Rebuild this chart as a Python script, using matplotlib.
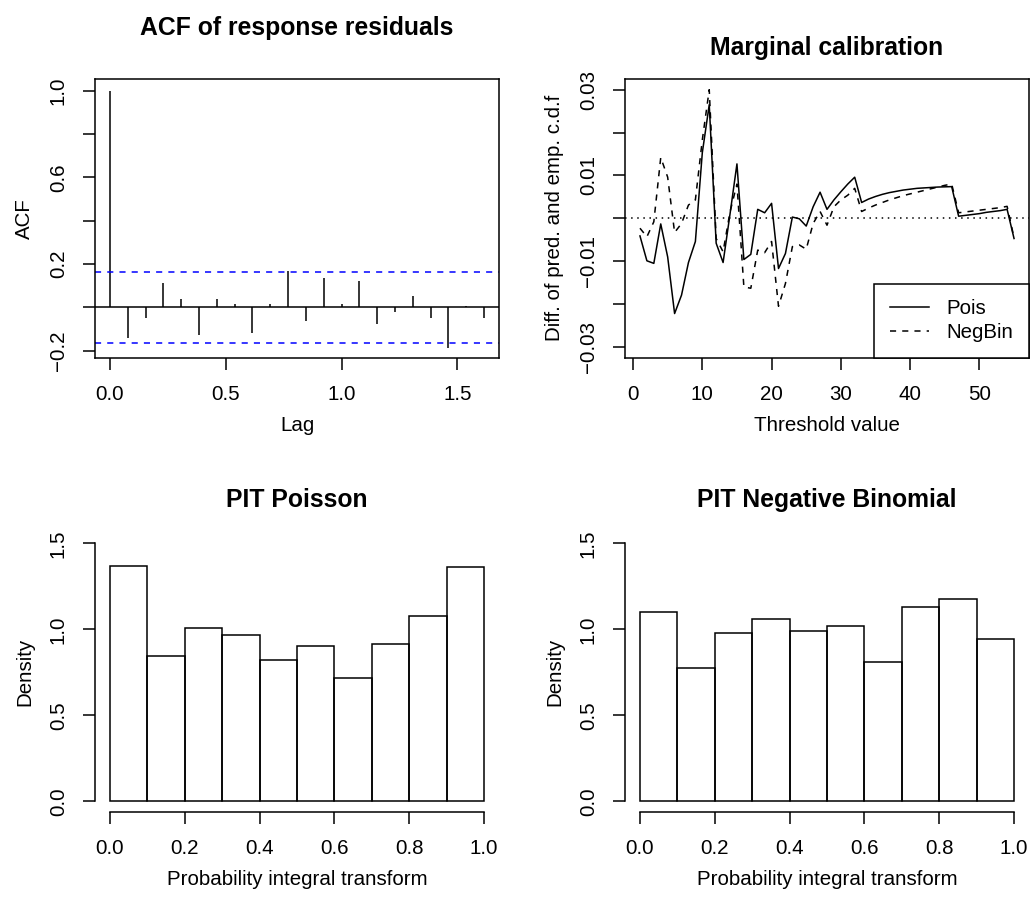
import numpy as np
import matplotlib
matplotlib.use("Agg")
import matplotlib.pyplot as plt

plt.rcParams['font.family'] = ['Liberation Sans', 'DejaVu Sans']
plt.rcParams['font.size'] = 14.8

# ACF of response residuals (lags in years, 13 obs per year)
acf_lags = [k / 13 for k in range(22)]
acf_vals = [1.0, -0.14, -0.051, 0.114, 0.037, -0.125, 0.04, 0.018, -0.12, 0.017, 0.168,
            -0.062, 0.138, 0.017, 0.122, -0.077, -0.022, 0.052, -0.051, -0.185, 0.006, -0.051]
acf_ci = 0.165

# marginal calibration: difference of predicted and empirical cdf (in %)
thresholds = list(range(1, 56))
diff_pois = [-0.41, -0.99, -1.05, -0.13, -0.90, -2.22, -1.79, -1.03, -0.54, 1.53,
             2.65, -0.58, -1.03, 0.10, 1.27, -0.96, -0.84, 0.21, 0.13, 0.35,
             -1.17, -0.82, 0.03, -0.01, -0.18, 0.27, 0.61, 0.21, 0.43, 0.62,
             0.80, 0.96, 0.37, 0.45, 0.51, 0.56, 0.60, 0.63, 0.66, 0.68,
             0.70, 0.71, 0.72, 0.73, 0.735, 0.74, 0.05, 0.07, 0.09, 0.11,
             0.14, 0.16, 0.18, 0.21, -0.47]
diff_negbin = [-0.23, -0.43, -0.08, 1.42, 0.96, -0.33, -0.12, 0.31, 0.43, 1.83,
               3.00, -0.47, -0.78, 0.15, 0.80, -1.60, -1.63, -0.74, -0.80, -0.54,
               -2.05, -1.52, -0.66, -0.62, -0.72, -0.12, 0.16, -0.16, 0.27, 0.43,
               0.54, 0.70, 0.16, 0.24, 0.31, 0.37, 0.43, 0.48, 0.53, 0.57,
               0.61, 0.65, 0.69, 0.73, 0.77, 0.80, 0.13, 0.15, 0.17, 0.19,
               0.21, 0.23, 0.25, 0.28, -0.45]
diff_pois = [v / 100 for v in diff_pois]
diff_negbin = [v / 100 for v in diff_negbin]

# PIT histograms
pit_bins = [0.0, 0.1, 0.2, 0.3, 0.4, 0.5, 0.6, 0.7, 0.8, 0.9]
pit_pois = [1.369, 0.844, 1.005, 0.966, 0.820, 0.902, 0.719, 0.916, 1.079, 1.363]
pit_negbin = [1.099, 0.778, 0.978, 1.063, 0.991, 1.017, 0.811, 1.131, 1.178, 0.945]

W, H = 1032, 898
fig = plt.figure(figsize=(W / 100, H / 100), dpi=100)

def panel(x0, y0, x1, y1):
    return fig.add_axes([x0 / W, 1 - y1 / H, (x1 - x0) / W, (y1 - y0) / H])

lw = 1.1
title_size = 17.8
tick_kw = dict(direction='out', length=8.4, width=lw, labelsize=14.8)

def style_axes(ax):
    ax.tick_params(axis='x', pad=11.5, **tick_kw)
    ax.tick_params(axis='y', pad=11.2, labelrotation=90, **tick_kw)
    for lab in ax.get_yticklabels():
        lab.set_va('center')
    for s in ax.spines.values():
        s.set_linewidth(lw)

# ---- ACF panel
ax1 = panel(95, 79, 499, 357.7)
ax1.vlines(acf_lags, 0, acf_vals, color='black', lw=lw)
ax1.axhline(0, color='black', lw=lw)
ax1.axhline(acf_ci, color='blue', lw=lw, ls=(0, (4, 4)))
ax1.axhline(-acf_ci, color='blue', lw=lw, ls=(0, (4, 4)))
ax1.set_xlim(-0.0646, 1.68)
ax1.set_ylim(-0.232, 1.054)
ax1.set_xticks([0.0, 0.5, 1.0, 1.5])
ax1.set_xticklabels(['0.0', '0.5', '1.0', '1.5'])
ax1.set_yticks([-0.2, 0.0, 0.2, 0.4, 0.6, 0.8, 1.0])
ax1.set_yticklabels(['\u22120.2', '', '0.2', '', '0.6', '', '1.0'])
style_axes(ax1)
ax1.set_xlabel('Lag', labelpad=8.4)
ax1.set_ylabel('ACF', labelpad=10.5)
ax1.set_title('ACF of response residuals', fontsize=title_size, fontweight='bold', pad=31.9)

# ---- marginal calibration panel
ax2 = panel(625, 79, 1029, 357.7)
ax2.plot(thresholds, diff_pois, color='black', lw=lw, label='Pois')
ax2.plot(thresholds, diff_negbin, color='black', lw=lw, ls=(0, (4, 4)), label='NegBin')
ax2.axhline(0, color='black', lw=lw, ls=(0, (1, 3)))
ax2.set_xlim(-1.16, 57.16)
ax2.set_ylim(-0.0325, 0.0325)
ax2.set_xticks([0, 10, 20, 30, 40, 50])
ax2.set_yticks([-0.03, -0.02, -0.01, 0.0, 0.01, 0.02, 0.03])
ax2.set_yticklabels(['\u22120.03', '', '\u22120.01', '', '0.01', '', '0.03'])
style_axes(ax2)
ax2.set_xlabel('Threshold value', labelpad=8.4)
ax2.set_ylabel('Diff. of pred. and emp. c.d.f', labelpad=10.5)
ax2.set_title('Marginal calibration', fontsize=title_size, fontweight='bold', pad=17)
leg = ax2.legend(loc='lower right', borderaxespad=0, fancybox=False, framealpha=1,
                 edgecolor='black', handlelength=1.9, handletextpad=0.87,
                 borderpad=0.75, labelspacing=0.25, fontsize=14.8)
leg.get_frame().set_linewidth(lw)

# ---- PIT histograms
def pit_panel(x0, heights, title):
    ax = panel(x0, 533, x0 + 404, 811.7)
    ax.bar(pit_bins, heights, width=0.1, align='edge', fill=False,
           edgecolor='black', lw=lw)
    ax.set_xlim(-0.04, 1.04)
    ax.set_ylim(-0.06, 1.56)
    ax.set_xticks([0.0, 0.2, 0.4, 0.6, 0.8, 1.0])
    ax.set_xticklabels(['0.0', '0.2', '0.4', '0.6', '0.8', '1.0'])
    ax.set_yticks([0.0, 0.5, 1.0, 1.5])
    ax.set_yticklabels(['0.0', '0.5', '1.0', '1.5'])
    ax.spines['top'].set_visible(False)
    ax.spines['right'].set_visible(False)
    ax.spines['bottom'].set_bounds(0, 1)
    ax.spines['left'].set_bounds(0, 1.5)
    style_axes(ax)
    ax.set_xlabel('Probability integral transform', labelpad=8.4)
    ax.set_ylabel('Density', labelpad=10.5)
    ax.set_title(title, fontsize=title_size, fontweight='bold', pad=19)
    return ax

pit_panel(95, pit_pois, 'PIT Poisson')
pit_panel(625, pit_negbin, 'PIT Negative Binomial')

fig.savefig('out.png', dpi=100)
